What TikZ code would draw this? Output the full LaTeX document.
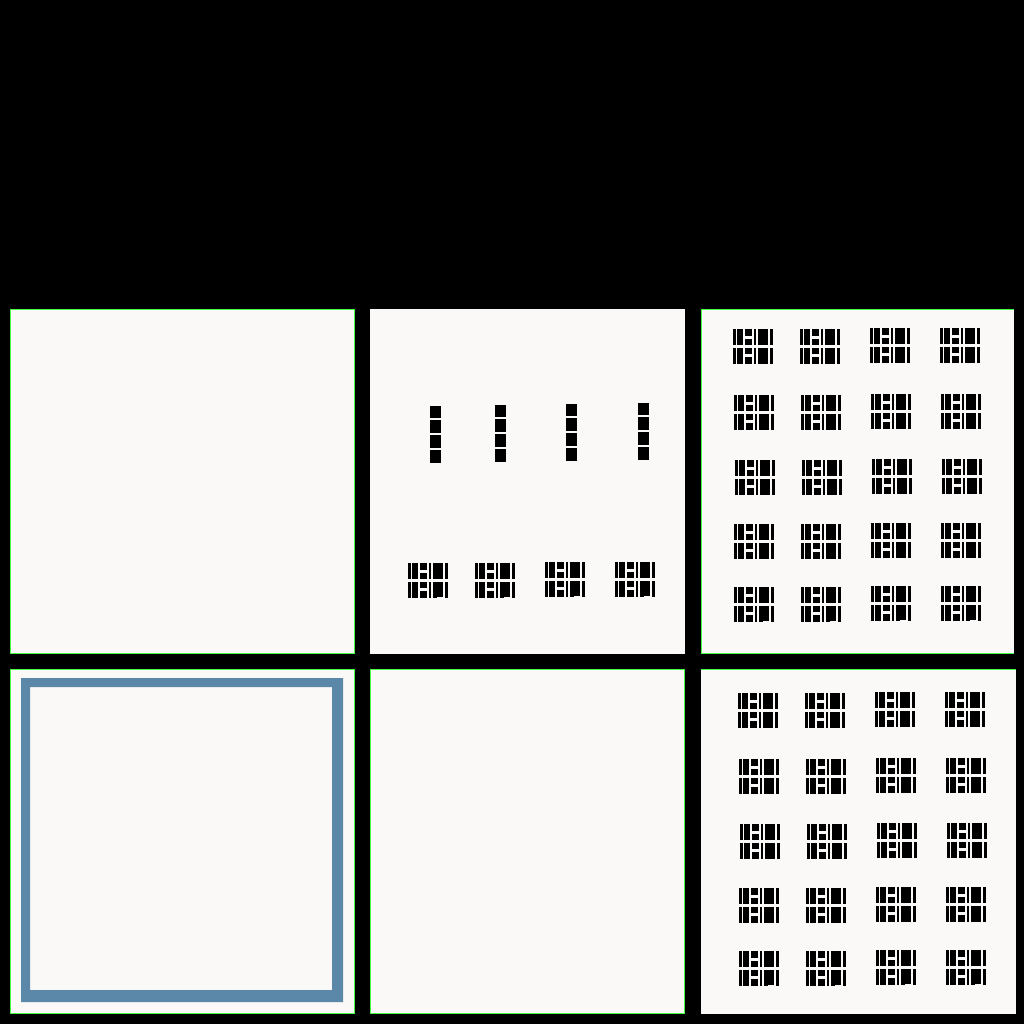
\documentclass[tikz,border=0pt]{standalone}
\definecolor{paper}{HTML}{FAF9F7}
\definecolor{framec}{HTML}{5B87A9}
\definecolor{edgec}{HTML}{44FF44}
\newcommand{\rc}[4]{\fill (#1,#2) rectangle (#3,#4);}
% one row of the glyph, 16.2 px tall
\newcommand{\grow}[2]{%
 \begin{scope}[shift={(#1,#2)}]
 \rc{0}{0}{2.5}{16.2}\rc{4}{0}{10.2}{16.2}\rc{11.8}{0}{19.2}{6.6}\rc{11.8}{9.8}{19.2}{16.2}
 \rc{20.8}{0}{23}{16.2}\rc{24.8}{0}{35.2}{16.2}\rc{36.9}{0}{39.7}{16.2}
 \end{scope}}
\newcommand{\glyph}[2]{\grow{#1}{#2}\grow{#1}{#2+18.6}}
% glyph whose lower wide block loses a sliver at the bottom right
\newcommand{\nglyph}[2]{\glyph{#1}{#2}%
 \begin{scope}[shift={(#1,#2)}]
 \fill[paper] (29,34.1) rectangle (35.8,35.2);
 \end{scope}}
\newcommand{\vbar}[2]{%
 \begin{scope}[shift={(#1,#2)}]
 \rc{0}{0}{10.7}{11.7}\rc{0}{14.3}{10.7}{26.6}\rc{0}{28.7}{10.7}{41.7}\rc{0}{44}{10.7}{57.3}
 \end{scope}}
\newcommand{\gridg}[2]{%
 \begin{scope}[shift={(#1,#2)}]
 \foreach \rx/\ry in {0/0,67/0,137/-1,207/-1,1/66,68/66,138/65,208/65,2/131,69/131,139/130,209/130,1/195,68/195,138/194,208/194}{\glyph{\rx}{\ry}}
 \foreach \rx/\ry in {1/258,68/258,138/257,208/257}{\nglyph{\rx}{\ry}}
 \end{scope}}
\begin{document}
\begin{tikzpicture}[x=0.5pt,y=-0.5pt]
\useasboundingbox (0,0) rectangle (1024,1024);
\fill[black] (0,0) rectangle (1024,1024);
\tikzset{edge/.style={draw=edgec,line width=0.6pt}}
\fill[paper] (10,309) rectangle (355,654);
\fill[paper] (370,309) rectangle (685,654);
\fill[paper] (701,309) rectangle (1014,654);
\fill[paper] (10,669) rectangle (355,1014);
\fill[paper] (370,669) rectangle (685,1014);
\fill[paper] (701,669) rectangle (1016,1014);
\draw[edge] (10.5,309.5) rectangle (354.5,653.5);
\draw[edge] (1014,309.5) -- (701.5,309.5) -- (701.5,653.5) -- (1014,653.5);
\draw[edge] (10.5,669.5) rectangle (354.5,1013.5);
\draw[edge] (370.5,669.5) rectangle (684.5,1013.5);
\draw[edge] (701,669.5) -- (1016,669.5);
\fill[framec,even odd rule] (21,678) rectangle (343,1002) (30,687) rectangle (332,990);
\begin{scope}[black]
\vbar{430}{406}\vbar{495}{405}\vbar{566}{404}\vbar{638}{403}
\nglyph{408}{563}\nglyph{475}{563}\nglyph{545}{562}\nglyph{615}{562}
\gridg{733}{329}
\gridg{738}{693}
\end{scope}
\end{tikzpicture}
\end{document}
